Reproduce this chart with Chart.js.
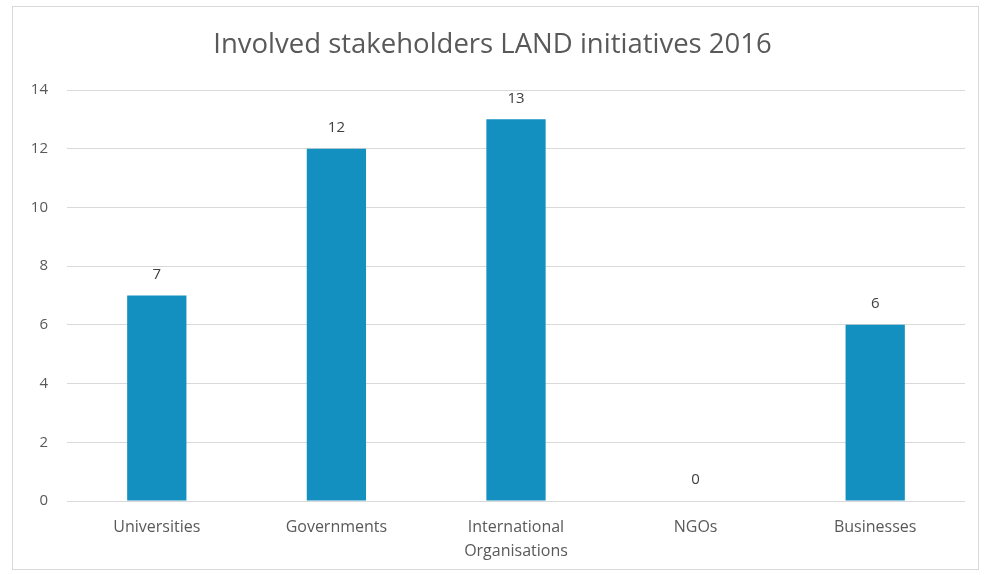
<!DOCTYPE html>
<html>
<head>
<meta charset="utf-8">
<script src="https://cdn.jsdelivr.net/npm/chart.js@4"></script>
<style>
  html, body { margin: 0; padding: 0; background: #ffffff; }
  #wrap { position: absolute; left: 0; top: 0; width: 986px; height: 575px; }
</style>
</head>
<body>
<div id="wrap"><canvas id="c"></canvas></div>
<script>
const categories = ['Universities', 'Governments', ['International', 'Organisations'], 'NGOs', 'Businesses'];
const values = [7, 12, 13, 0, 6];
const chartTitle = 'Involved stakeholders LAND initiatives 2016';
const yMin = 0, yMax = 14, yStep = 2;

const textColor = '#595959';
const barColor = '#1390c0';
const fontFamily = '"Open Sans", Lato, sans-serif';

const frame = {
  id: 'frame',
  beforeDraw(chart) {
    const ctx = chart.ctx;
    ctx.save();
    ctx.fillStyle = '#ffffff';
    ctx.fillRect(0, 0, chart.width, chart.height);
    ctx.strokeStyle = '#d9d9d9';
    ctx.lineWidth = 1;
    ctx.strokeRect(12.5, 6.5, 966, 563);
    ctx.restore();
  }
};

const dataLabels = {
  id: 'dataLabels',
  afterDatasetsDraw(chart) {
    const ctx = chart.ctx;
    const meta = chart.getDatasetMeta(0);
    ctx.save();
    ctx.fillStyle = '#404040';
    ctx.font = '15px ' + fontFamily;
    ctx.textAlign = 'center';
    ctx.textBaseline = 'middle';
    meta.data.forEach((bar, i) => {
      ctx.fillText(String(chart.data.datasets[0].data[i]), bar.x, bar.y - 21);
    });
    ctx.restore();
  }
};

new Chart(document.getElementById('c'), {
  type: 'bar',
  data: {
    labels: categories,
    datasets: [{
      data: values,
      backgroundColor: barColor,
      borderWidth: 0,
      categoryPercentage: 1,
      barPercentage: 0.33
    }]
  },
  options: {
    responsive: true,
    maintainAspectRatio: false,
    animation: false,
    layout: { padding: { left: 20, right: 21, top: 3, bottom: 6 } },
    plugins: {
      legend: { display: false },
      tooltip: { enabled: false },
      title: {
        display: true,
        text: chartTitle,
        color: textColor,
        font: { family: fontFamily, size: 27.5, weight: 'normal' },
        padding: { top: 26, bottom: 28 }
      }
    },
    scales: {
      x: {
        grid: { display: false },
        border: { display: false },
        ticks: {
          color: textColor,
          font: { family: fontFamily, size: 16, lineHeight: 1.5 },
          padding: 6,
          maxRotation: 0,
          autoSkip: false
        }
      },
      y: {
        min: yMin,
        max: yMax,
        afterFit(s) { s.width = 47; },
        grid: { color: '#d9d9d9', lineWidth: 1, drawTicks: false },
        border: { display: false },
        ticks: {
          stepSize: yStep,
          color: textColor,
          font: { family: fontFamily, size: 15 },
          padding: 19
        }
      }
    }
  },
  plugins: [frame, dataLabels]
});
</script>
</body>
</html>
